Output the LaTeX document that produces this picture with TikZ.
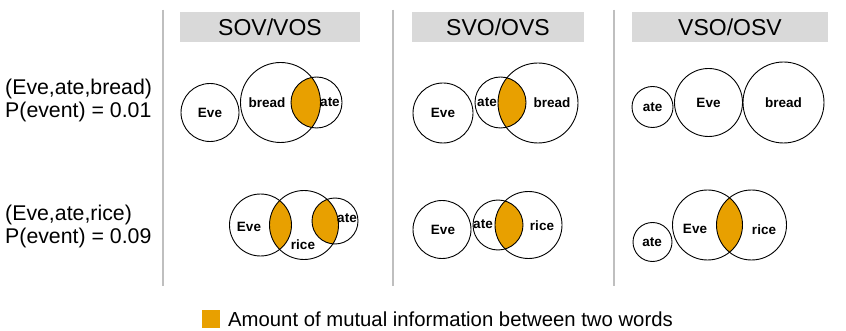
\documentclass[tikz,border=0pt]{standalone}
\usepackage{fontspec}
\setmainfont{Liberation Sans}
\definecolor{mutual}{RGB}{232,160,0}
\definecolor{headgray}{RGB}{217,217,217}
\definecolor{rulegray}{RGB}{191,191,191}
\tikzset{ring/.style={draw=black,line width=0.9pt},
         word/.style={font=\fontsize{13.5}{15}\selectfont\bfseries,inner sep=0pt},
         header/.style={fill=headgray,minimum width=#1,minimum height=30pt,inner sep=0pt,font=\fontsize{23}{26}\selectfont},
         event/.style={align=left,anchor=west,inner sep=0pt,font=\fontsize{21.3}{23}\selectfont}}

\begin{document}
\begin{tikzpicture}[x=1pt,y=-1pt]
    \useasboundingbox[fill=white] (0,0) rectangle (846,331);

    % column rules and headers
    \foreach \x in {163,393,614}{
    	     \draw[rulegray,line width=1.2pt] (\x,10) -- (\x,286);
    }
    \node[header=180pt] (hsov) at (270,27) {SOV/VOS};
    \node[header=172pt] (hsvo) at (498,27) {SVO/OVS};
    \node[header=196pt] (hvso) at (730,27) {VSO/OSV};

    % events
    \node[event] (evbread) at (5,100) {(Eve,ate,bread)\\P(event) = 0.01};
    \node[event] (evrice) at (5,226) {(Eve,ate,rice)\\P(event) = 0.09};

    % shared information
    \foreach \xa/\ya/\ra/\xb/\yb/\rb in {280.5/102.5/40/316.5/102.5/25.5, 500.5/102.5/25.5/538/103/40,
             260.5/225/31/304/225/34.5, 304/225/34.5/335/221/23, 498/225/25/528.5/225/33.5,
             707.5/225/35/751.5/225/35}{
    	     \begin{scope}
    	     \clip (\xa,\ya) circle[radius=\ra];
    	     \fill[mutual] (\xb,\yb) circle[radius=\rb];
    	     \end{scope}
    }

    % word circles
    \foreach \n/\x/\y/\r in {aeve/210/112.5/29, abread/280.5/102.5/40, aate/316.5/102.5/25.5,
             beve/443/113/30, bate/500.5/102.5/25.5, bbread/538/103/40,
             cate/652.5/107/20.5, ceve/708.5/102.5/34, cbread/783.5/102.5/40.5,
             deve/260.5/225/31, drice/304/225/34.5, date/335/221/23,
             eeve/442/229.5/29, eate/498/225/25, erice/528.5/225/33.5,
             fate/652.5/242/19.5, feve/707.5/225/35, frice/751.5/225/35}{
    	     \coordinate (\n) at (\x,\y);
    	     \draw[ring] (\n) circle[radius=\r];
    }

    % word labels
    \foreach \n/\t/\x/\y in {leveA/Eve/210/113, lbreadA/bread/267/103, lateA/ate/330/102,
             leveB/Eve/443/113, lateB/ate/487/102, lbreadB/bread/552/103,
             lateC/ate/652.5/107, leveC/Eve/708.5/103, lbreadC/bread/783.5/103,
             leveD/Eve/249/227, lriceD/rice/303/245, lateD/ate/347/218,
             leveE/Eve/443/230, lateE/ate/483/224, lriceE/rice/542/226,
             lateF/ate/652/242, leveF/Eve/695/229, lriceF/rice/764/230}{
    	     \node[word] (\n) at (\x,\y) {\t};
    }

    % legend
    \node[fill=mutual,minimum size=18pt,inner sep=0pt] (key) at (211,319) {};
    \node[anchor=west,inner sep=0pt,font=\fontsize{20.3}{22}\selectfont] (keytext) at (228,319) {Amount of mutual information between two words};
\end{tikzpicture}
\end{document}
